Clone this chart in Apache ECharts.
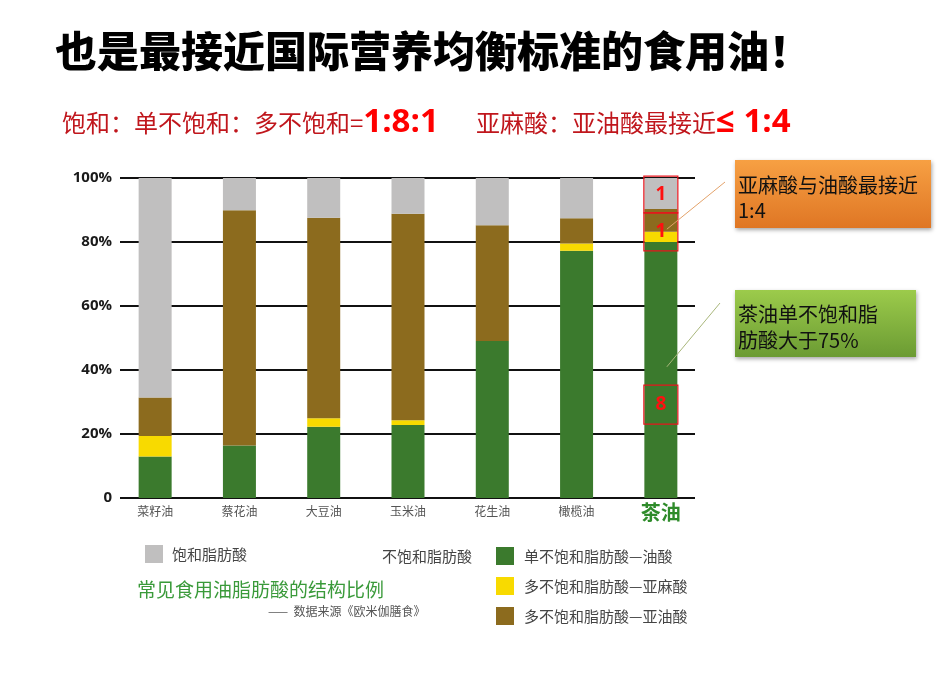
<!DOCTYPE html>
<html>
<head>
<meta charset="utf-8">
<script src="https://cdn.jsdelivr.net/npm/echarts@6/dist/echarts.min.js"></script>
<style>
html,body{margin:0;padding:0;background:#fff;}
#main{width:945px;height:680px;}
</style>
</head>
<body>
<div id="main"></div>
<script>
// ---- data ----
const categories = ['菜籽油', '蔡花油', '大豆油', '玉米油', '花生油', '橄榄油', '茶油'];
const oleic = [13.0, 16.4, 22.3, 22.8, 49.1, 77.3, 80.0];        // 单不饱和脂肪酸—油酸
const linolenic = [6.4, 0, 2.6, 1.5, 0, 2.2, 3.2];                // 多不饱和脂肪酸—亚麻酸
const linoleic = [12.0, 73.5, 62.7, 64.5, 36.1, 7.9, 7.1];        // 多不饱和脂肪酸—亚油酸
const saturated = [68.6, 10.1, 12.4, 11.2, 14.8, 12.6, 9.7];      // 饱和脂肪酸
const seriesNames = ['单不饱和脂肪酸—油酸', '多不饱和脂肪酸—亚麻酸', '多不饱和脂肪酸—亚油酸', '饱和脂肪酸'];
const yTicks = { min: 0, max: 100, interval: 20 };
// annotation boxes on 茶油 (value ranges) and their labels
const boxRanges = [[100.6, 89.1], [89.1, 77.2], [35.3, 23.1]];
const boxLabels = ['1', '1', '8'];

const FONT = '"Noto Sans CJK SC", "Noto Sans", sans-serif';
const colors = ['#3b7a2d', '#f8da00', '#8c6b1e', '#c0bfbf'];

const chart = echarts.init(document.getElementById('main'), null, { renderer: 'canvas' });

const seriesData = [oleic, linolenic, linoleic, saturated];
const series = seriesData.map((d, i) => ({
  name: seriesNames[i],
  type: 'bar',
  stack: 'total',
  xAxisIndex: 1,
  yAxisIndex: 1,
  barWidth: 33,
  data: d,
  itemStyle: { color: colors[i] },
  emphasis: { disabled: true },
  animation: false
}));

chart.setOption({
  animation: false,
  textStyle: { fontFamily: FONT },
  grid: [
    { left: 120, right: 250, top: 178, bottom: 182 },
    { left: 113, right: 242, top: 178, bottom: 182 }
  ],
  xAxis: [
    { gridIndex: 0, type: 'category', data: categories, show: false },
    {
      gridIndex: 1, type: 'category', data: categories,
      axisLine: { show: false }, axisTick: { show: false },
      axisLabel: {
        margin: 6,
        formatter: v => v === '茶油' ? '{tea|' + v + '}' : '{n|' + v + '}',
        rich: {
          n: { fontSize: 12, color: '#555', lineHeight: 14, fontFamily: FONT },
          tea: { fontSize: 20, color: '#2e8b2a', fontWeight: 'bold', lineHeight: 16, fontFamily: FONT }
        }
      }
    }
  ],
  yAxis: [
    {
      gridIndex: 0, type: 'value', min: yTicks.min, max: yTicks.max, interval: yTicks.interval,
      axisLine: { show: false }, axisTick: { show: false },
      splitLine: { show: true, lineStyle: { color: '#111', width: 2 } },
      axisLabel: {
        margin: 8,
        formatter: v => v === 0 ? '0' : v + '%',
        fontSize: 15, fontWeight: 'bold', color: '#1a1a1a', fontFamily: '"Open Sans", sans-serif'
      }
    },
    { gridIndex: 1, type: 'value', min: yTicks.min, max: yTicks.max, show: false, splitLine: { show: false } }
  ],
  legend: [
    {
      data: [seriesNames[3]], left: 145, top: 545, padding: 0, icon: 'rect',
      itemWidth: 18, itemHeight: 18, selectedMode: false,
      textStyle: { fontSize: 15, color: '#444', fontFamily: FONT, padding: [0, 0, 0, 4] }
    },
    {
      data: seriesNames.slice(0, 3), left: 496, top: 547, padding: 0, orient: 'vertical', icon: 'rect',
      itemWidth: 18, itemHeight: 18, itemGap: 12, selectedMode: false,
      textStyle: { fontSize: 15, color: '#444', fontFamily: FONT, padding: [0, 0, 0, 5] }
    }
  ],
  series: series
});

// ---- annotations ----
const g = [];
// title
g.push({ type: 'text', left: 55, top: 30, style: { text: '也是最接近国际营养均衡标准的食用油！', font: '900 42px ' + FONT, fill: '#000' } });
// subtitle
g.push({ type: 'text', x: 62, y: 123, style: {
  text: '{a|饱和：单不饱和：多不饱和=}{b|1:8:1}', verticalAlign: 'middle',
  rich: { a: { fontSize: 24, fill: '#c0161c', fontFamily: FONT }, b: { fontSize: 33, fontWeight: 'bold', fill: '#ff0000', fontFamily: '"Open Sans", sans-serif' } }
} });
g.push({ type: 'text', x: 476, y: 123, style: {
  text: '{a|亚麻酸：亚油酸最接近}{b|≤ 1:4}', verticalAlign: 'middle',
  rich: { a: { fontSize: 24, fill: '#c0161c', fontFamily: FONT }, b: { fontSize: 33, fontWeight: 'bold', fill: '#ff0000', fontFamily: '"Open Sans", sans-serif' } }
} });
// chart caption texts
g.push({ type: 'text', x: 382, y: 556, style: { text: '不饱和脂肪酸', font: '15px ' + FONT, fill: '#444', verticalAlign: 'middle' } });
g.push({ type: 'text', x: 137, y: 590, style: { text: '常见食用油脂肪酸的结构比例', font: '19px ' + FONT, fill: '#3a9a3a', verticalAlign: 'middle' } });
g.push({ type: 'text', x: 268, y: 611, style: { text: '——  数据来源《欧米伽膳食》', font: '12px ' + FONT, fill: '#555', verticalAlign: 'middle' } });

// red boxes on 茶油 bar
const teaIdx = categories.indexOf('茶油');
boxRanges.forEach((r, i) => {
  const p1 = chart.convertToPixel({ gridIndex: 1 }, [teaIdx, r[0]]);
  const p2 = chart.convertToPixel({ gridIndex: 1 }, [teaIdx, r[1]]);
  const half = 17;
  g.push({ type: 'rect', shape: { x: p1[0] - half, y: p1[1], width: half * 2, height: p2[1] - p1[1] },
    style: { fill: 'none', stroke: '#e8141c', lineWidth: 1.2 }, z: 10 });
  g.push({ type: 'text', x: p1[0], y: (p1[1] + p2[1]) / 2, z: 11,
    style: { text: boxLabels[i], font: 'bold 19px "Open Sans", sans-serif', fill: '#ff1010', align: 'center', verticalAlign: 'middle' } });
});

// leader lines
const a1 = chart.convertToPixel({ gridIndex: 1 }, [teaIdx, 84]);
const a2 = chart.convertToPixel({ gridIndex: 1 }, [teaIdx, 41]);
g.push({ type: 'line', shape: { x1: 725, y1: 182, x2: a1[0] + 6, y2: a1[1] }, style: { stroke: '#e3a26a', lineWidth: 1 }, z: 12 });
g.push({ type: 'line', shape: { x1: 720, y1: 303, x2: a2[0] + 6, y2: a2[1] }, style: { stroke: '#a8b67a', lineWidth: 1 }, z: 12 });

// callout boxes
g.push({ type: 'rect', shape: { x: 735, y: 160, width: 196, height: 68 },
  style: { fill: new echarts.graphic.LinearGradient(0, 0, 0, 1, [{ offset: 0, color: '#f7a043' }, { offset: 1, color: '#df7624' }]),
    shadowBlur: 4, shadowOffsetX: 1, shadowOffsetY: 2, shadowColor: 'rgba(0,0,0,0.35)' } });
g.push({ type: 'text', x: 738, y: 173, style: { text: '亚麻酸与油酸最接近\n1:4', font: '20px ' + FONT, fill: '#111', lineHeight: 25 } });
g.push({ type: 'rect', shape: { x: 735, y: 290, width: 181, height: 67 },
  style: { fill: new echarts.graphic.LinearGradient(0, 0, 0, 1, [{ offset: 0, color: '#9ccb4b' }, { offset: 1, color: '#6b9b33' }]),
    shadowBlur: 4, shadowOffsetX: 1, shadowOffsetY: 2, shadowColor: 'rgba(0,0,0,0.35)' } });
g.push({ type: 'text', x: 738, y: 301, style: { text: '茶油单不饱和脂\n肪酸大于75%', font: '20px ' + FONT, fill: '#111', lineHeight: 26 } });

chart.setOption({ graphic: g });
</script>
</body>
</html>
